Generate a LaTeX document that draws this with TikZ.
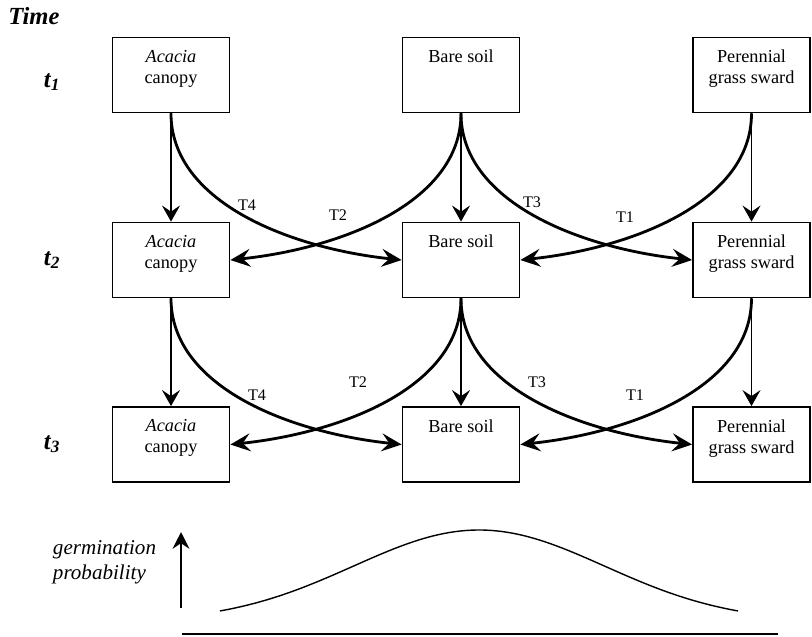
\documentclass[tikz,border=0pt]{standalone}
\usepackage{fontspec}
\setmainfont{Liberation Serif}
\usetikzlibrary{arrows.meta}
\tikzset{
  habitat/.style={draw, line width=1.3pt, minimum width=2.925cm, minimum height=1.875cm, inner sep=0pt},
  intext/.style={anchor=north, align=center, yshift=-6pt, font=\fontsize{13}{15}\selectfont},
  persist/.style={line width=0.9pt, -{Stealth[length=4mm,width=4.5mm,inset=1.5mm]}},
  transit/.style={line width=2pt, -{Stealth[length=5mm,width=4.5mm,inset=1.9mm]}},
  tlab/.style={font=\fontsize{11.5}{13}\selectfont},
  rowlab/.style={font=\fontsize{17.5}{20}\selectfont\bfseries\itshape}
}
\begin{document}
\begin{tikzpicture}
  \useasboundingbox (0,0) rectangle (20.3,-15.9);
  % time labels
  \node[rowlab] (time) at (0.85,-0.4) {Time};
  \node[rowlab] (t1) at (1.3,-2.05) {t\textsubscript{1}};
  \node[rowlab] (t2) at (1.3,-6.5) {t\textsubscript{2}};
  \node[rowlab] (t3) at (1.3,-11.1) {t\textsubscript{3}};
  % habitat boxes
  \node[habitat, label={[intext]north:{\textit{Acacia}\\canopy}}] (ac1) at (4.275,-1.875) {};
  \node[habitat, label={[intext]north:{Bare soil}}] (bs1) at (11.525,-1.875) {};
  \node[habitat, label={[intext]north:{Perennial\\grass sward}}] (pg1) at (18.7875,-1.875) {};
  \node[habitat, label={[intext]north:{\textit{Acacia}\\canopy}}] (ac2) at (4.275,-6.5) {};
  \node[habitat, label={[intext]north:{Bare soil}}] (bs2) at (11.525,-6.5) {};
  \node[habitat, label={[intext]north:{Perennial\\grass sward}}] (pg2) at (18.7875,-6.5) {};
  \node[habitat, label={[intext]north:{\textit{Acacia}\\canopy}}] (ac3) at (4.275,-11.1125) {};
  \node[habitat, label={[intext]north:{Bare soil}}] (bs3) at (11.525,-11.1125) {};
  \node[habitat, label={[intext]north:{Perennial\\grass sward}}] (pg3) at (18.7875,-11.1125) {};
  % staying put
  \draw[persist] (ac1.south) -- (ac2.north);
  \draw[persist] (bs1.south) -- (bs2.north);
  \draw[persist] (pg1.south) -- (pg2.north);
  \draw[persist] (ac2.south) -- (ac3.north);
  \draw[persist] (bs2.south) -- (bs3.north);
  \draw[persist] (pg2.south) -- (pg3.north);
  % transitions t1 -> t2
  \draw[transit] (ac1.south) .. controls +(0,-2.2) and +(-2.825,0.3) .. (bs2.west);
  \draw[transit] (bs1.south) .. controls +(0,-2.2) and +(2.825,0.3) .. (ac2.east);
  \draw[transit] (bs1.south) .. controls +(0,-2.2) and +(-2.825,0.3) .. (pg2.west);
  \draw[transit] (pg1.south) .. controls +(0,-2.2) and +(2.825,0.3) .. (bs2.east);
  \node[tlab] (T4a) at (6.175,-5.125) {T4};
  \node[tlab] (T2a) at (8.45,-5.375) {T2};
  \node[tlab] (T3a) at (13.3,-5.05) {T3};
  \node[tlab] (T1a) at (15.625,-5.425) {T1};
  % transitions t2 -> t3
  \draw[transit] (ac2.south) .. controls +(0,-2.2) and +(-2.825,0.3) .. (bs3.west);
  \draw[transit] (bs2.south) .. controls +(0,-2.2) and +(2.825,0.3) .. (ac3.east);
  \draw[transit] (bs2.south) .. controls +(0,-2.2) and +(-2.825,0.3) .. (pg3.west);
  \draw[transit] (pg2.south) .. controls +(0,-2.2) and +(2.825,0.3) .. (bs3.east);
  \node[tlab] (T4b) at (6.425,-9.875) {T4};
  \node[tlab] (T2b) at (8.95,-9.55) {T2};
  \node[tlab] (T3b) at (13.425,-9.55) {T3};
  \node[tlab] (T1b) at (15.875,-9.875) {T1};
  % germination curve
  \node[anchor=west, align=left, font=\fontsize{15}{18}\selectfont\itshape] (gp) at (1.2,-14.05) {germination\\probability};
  \coordinate (yb) at (4.525,-15.2);
  \coordinate (yt) at (4.525,-13.3);
  \draw[line width=1pt, -{Stealth[length=4.2mm,width=4.2mm,inset=1.4mm]}] (yb) -- (yt);
  \draw[line width=1pt] plot[domain=5.5:18.45, samples=60, smooth] (\x, {-15.55+2.3*exp(-((\x-11.975)^2)/(2*3.145^2))});
  \coordinate (xl) at (4.55,-15.85);
  \coordinate (xr) at (19.45,-15.85);
  \draw[line width=1.6pt] (xl) -- (xr);
\end{tikzpicture}
\end{document}
